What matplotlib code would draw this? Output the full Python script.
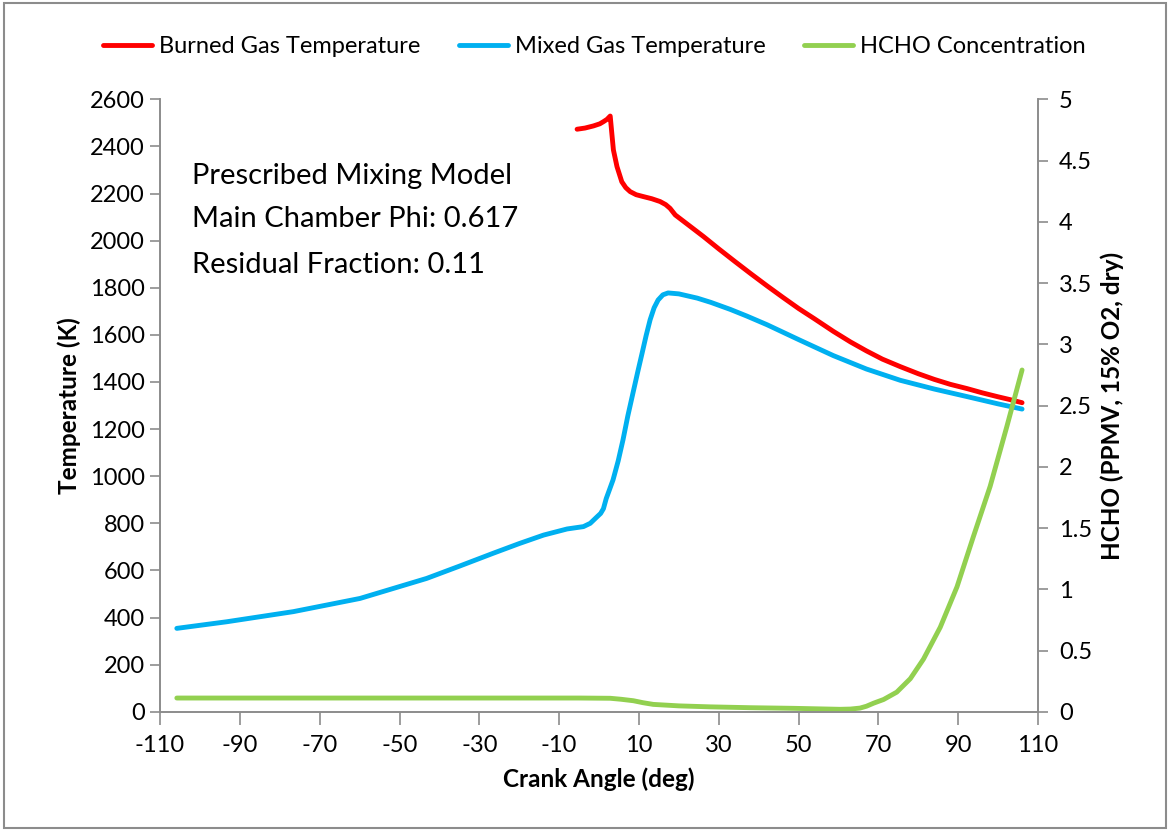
import matplotlib.pyplot as plt
from matplotlib.patches import Rectangle

plt.rcParams['font.family'] = ['Lato', 'DejaVu Sans']
plt.rcParams['axes.unicode_minus'] = False

# burned gas temperature (K)
burned_ca = [-5.5, -3.5, -1.4, 0.2, 1.1, 2.0, 2.8, 3.2, 3.6, 4.5, 5.7, 6.7, 7.8, 9.3, 11.1, 13.2, 15.3, 16.7, 17.8, 19.1,
             22.5, 26.2, 30, 34, 38, 42.1, 46, 50, 54, 58.7, 63, 67, 71, 75.5, 80, 84, 88, 92.2, 96, 100, 103, 106.0]
burned_t = [2473, 2478, 2487, 2496, 2505, 2515, 2529, 2456, 2385, 2314, 2250, 2225, 2208, 2195, 2187, 2178, 2166, 2153, 2137, 2109,
            2065, 2017, 1965, 1912, 1860, 1808, 1760, 1712, 1668, 1615, 1570, 1532, 1497, 1465, 1435, 1411, 1390, 1372, 1354, 1337, 1325, 1312]

# mixed gas temperature (K)
mixed_ca = [-105.8, -93.3, -76.6, -59.9, -43.2, -35, -26.5, -20, -13.9, -8, -3.9, -2.2, -0.6, 0.4, 1.1, 1.8, 2.6, 3.5, 4.8, 6.0,
            7.2, 8.5, 9.7, 10.8, 11.8, 12.8, 13.8, 14.8, 16, 17.3, 20, 24.6, 28, 32.9, 37, 42.1, 50, 58.7, 67, 75.5, 84, 92.2, 100, 106.0]
mixed_t = [354, 382, 425, 481, 566, 618, 673, 714, 750, 776, 786, 800, 826, 842, 862, 905, 942, 984, 1065, 1154,
           1255, 1353, 1443, 1523, 1597, 1664, 1715, 1748, 1770, 1778, 1774, 1756, 1738, 1708, 1680, 1643, 1580, 1512, 1455, 1407, 1370, 1338, 1307, 1285]

# HCHO concentration (ppmv, 15% O2, dry)
hcho_ca = [-105.8, -80, -50, -20, -5, 2.8, 5.5, 8.6, 11, 13.6, 20, 27.8, 38, 48.7, 56, 60.4, 63, 65.4, 67, 68.8, 71.3, 74.6,
           78, 81.3, 85.5, 89.7, 93.8, 98.0, 102.2, 106.0]
hcho_c = [0.112, 0.112, 0.112, 0.112, 0.112, 0.11, 0.102, 0.09, 0.074, 0.06, 0.048, 0.04, 0.033, 0.028, 0.023, 0.02, 0.022, 0.03, 0.045, 0.07, 0.1, 0.16,
          0.27, 0.43, 0.69, 1.02, 1.43, 1.84, 2.33, 2.79]

x_ticks = list(range(-110, 111, 20))
t_ticks = list(range(0, 2601, 200))
c_ticks = [0, 0.5, 1, 1.5, 2, 2.5, 3, 3.5, 4, 4.5, 5]
c_labels = ['0', '0.5', '1', '1.5', '2', '2.5', '3', '3.5', '4', '4.5', '5']

fig = plt.figure(figsize=(11.7, 8.31), dpi=100)
fig.patches.append(Rectangle((0.003, 0.004), 0.994, 0.992, transform=fig.transFigure,
                             fill=False, edgecolor='#8c8c8c', linewidth=1.5))
ax = fig.add_axes([0.1368, 0.1435, 0.7504, 0.7370])
ax2 = ax.twinx()

grey = '#8c8c8c'
l1, = ax.plot(burned_ca, burned_t, color='#ff0000', linewidth=3.5, label='Burned Gas Temperature',
              solid_joinstyle='round', solid_capstyle='round')
l2, = ax.plot(mixed_ca, mixed_t, color='#00b0f0', linewidth=3.5, label='Mixed Gas Temperature',
              solid_joinstyle='round', solid_capstyle='round')
l3, = ax2.plot(hcho_ca, hcho_c, color='#92d050', linewidth=3.5, label='HCHO Concentration',
               solid_joinstyle='round', solid_capstyle='round')

ax.set_xlim(-110, 110)
ax.set_ylim(0, 2600)
ax2.set_ylim(0, 5)
ax.set_xticks(x_ticks)
ax.set_yticks(t_ticks)
ax2.set_yticks(c_ticks)
ax2.set_yticklabels(c_labels)

for a in (ax, ax2):
    a.spines['top'].set_visible(False)
    for s in ('left', 'right', 'bottom'):
        a.spines[s].set_color(grey)
        a.spines[s].set_linewidth(1.2)
    a.tick_params(colors=grey, labelcolor='black', labelsize=17, width=1.2, length=7)
ax.tick_params(axis='x', length=9, pad=8)
ax.tick_params(axis='y', pad=4)
ax2.tick_params(axis='y', pad=8)

ax.set_xlabel('Crank Angle (deg)', fontsize=17.5, fontweight='bold', labelpad=8)
ax.set_ylabel('Temperature (K)', fontsize=17.5, fontweight='bold', labelpad=6)
ax2.set_ylabel('HCHO (PPMV, 15% O2, dry)', fontsize=17.5, fontweight='bold', labelpad=6)

ax.text(0.036, 0.875, 'Prescribed Mixing Model', transform=ax.transAxes, fontsize=21, va='center')
ax.text(0.036, 0.805, 'Main Chamber Phi: 0.617', transform=ax.transAxes, fontsize=21, va='center')
ax.text(0.036, 0.730, 'Residual Fraction: 0.11', transform=ax.transAxes, fontsize=21, va='center')

fig.legend([l1, l2, l3], [l.get_label() for l in (l1, l2, l3)], loc='center',
           bbox_to_anchor=(0.508, 0.944), ncol=3, frameon=False, fontsize=17,
           handlelength=2.1, handletextpad=0.3, columnspacing=1.6)

fig.savefig('out.png', dpi=100)
